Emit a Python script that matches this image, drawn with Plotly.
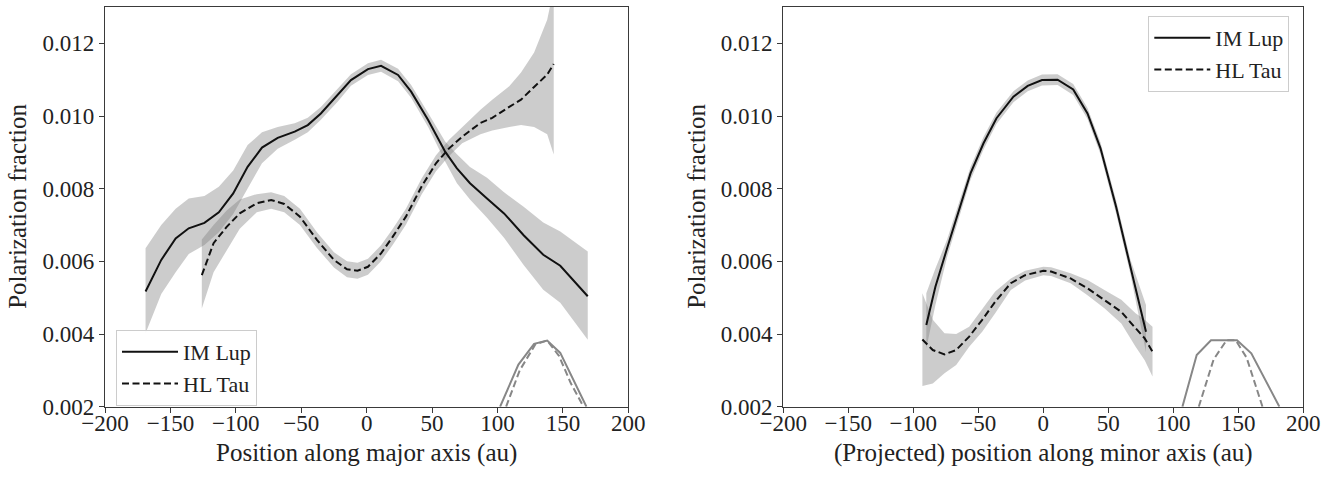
import plotly.graph_objects as go

# ---------------- data: major axis (left panel) ----------------
imlup_major_x = [-169, -157, -146, -136, -124, -113, -102, -91, -80, -68, -55, -45, -35, -22, -12,
                 1, 11, 24, 34, 47, 60, 69, 79, 92, 105, 120, 135, 148, 169]
imlup_major_y = [0.00517, 0.00604, 0.00663, 0.00691, 0.00706, 0.00735, 0.00787, 0.00860, 0.00913,
                 0.00940, 0.00957, 0.00975, 0.01007, 0.01058, 0.01099, 0.01129, 0.01138, 0.01113,
                 0.01067, 0.00989, 0.00902, 0.00856, 0.00815, 0.00773, 0.00732, 0.00672, 0.00618,
                 0.00588, 0.00504]
imlup_major_hi = [0.00636, 0.00700, 0.00745, 0.00773, 0.00780, 0.00805, 0.00850, 0.00920, 0.00955,
                  0.00970, 0.00980, 0.00995, 0.01025, 0.01075, 0.01115, 0.01145, 0.01155, 0.01130,
                  0.01085, 0.01008, 0.00930, 0.00895, 0.00860, 0.00830, 0.00790, 0.00750, 0.00707,
                  0.00682, 0.00627]
imlup_major_lo = [0.00402, 0.00510, 0.00570, 0.00620, 0.00645, 0.00680, 0.00730, 0.00800, 0.00870,
                  0.00910, 0.00935, 0.00955, 0.00990, 0.01040, 0.01083, 0.01113, 0.01122, 0.01096,
                  0.01050, 0.00970, 0.00875, 0.00815, 0.00770, 0.00720, 0.00665, 0.00590, 0.00522,
                  0.00486, 0.00384]

hltau_major_x = [-126, -117, -107, -97, -84, -73, -63, -51, -38, -25, -15, -7, 1, 11, 20, 30, 42,
                 53, 63, 73, 87, 96, 109, 118, 128, 138, 143]
hltau_major_y = [0.00562, 0.00650, 0.00695, 0.00732, 0.00760, 0.00769, 0.00758, 0.00723, 0.00659,
                 0.00604, 0.00578, 0.00574, 0.00585, 0.00622, 0.00668, 0.00723, 0.00806, 0.00870,
                 0.00911, 0.00943, 0.00981, 0.00995, 0.01025, 0.01045, 0.01080, 0.01114, 0.01143]
hltau_major_hi = [0.00660, 0.00700, 0.00740, 0.00770, 0.00785, 0.00790, 0.00780, 0.00745, 0.00680,
                  0.00625, 0.00600, 0.00596, 0.00607, 0.00644, 0.00690, 0.00745, 0.00828, 0.00892,
                  0.00935, 0.00970, 0.01017, 0.01045, 0.01082, 0.01120, 0.01175, 0.01265, 0.01350]
hltau_major_lo = [0.00470, 0.00570, 0.00630, 0.00690, 0.00735, 0.00745, 0.00735, 0.00700, 0.00637,
                  0.00583, 0.00556, 0.00552, 0.00563, 0.00600, 0.00646, 0.00701, 0.00784, 0.00848,
                  0.00890, 0.00925, 0.00950, 0.00960, 0.00970, 0.00975, 0.00970, 0.00950, 0.00894]

beam_major_solid_x = [102, 116, 128, 138, 148, 158, 168]
beam_major_solid_y = [0.0020, 0.00316, 0.00373, 0.00382, 0.00348, 0.00274, 0.0020]
beam_major_dash_x = [106.6, 117, 129, 138, 147, 156, 165.8]
beam_major_dash_y = [0.0020, 0.00300, 0.00372, 0.00382, 0.00340, 0.00265, 0.0020]

# ---------------- data: minor axis (right panel) ----------------
imlup_minor_x = [-90, -83, -74, -65, -56, -46, -36, -23, -12, -1, 11, 23, 34, 44, 56, 67, 79]
imlup_minor_y = [0.00425, 0.00530, 0.00636, 0.00741, 0.00842, 0.00925, 0.00994, 0.01053, 0.01083,
                 0.01099, 0.01100, 0.01073, 0.01007, 0.00911, 0.00750, 0.00585, 0.00406]
imlup_minor_hi = [0.00512, 0.00580, 0.00660, 0.00762, 0.00860, 0.00942, 0.01010, 0.01068, 0.01098,
                  0.01114, 0.01115, 0.01088, 0.01022, 0.00927, 0.00768, 0.00605, 0.00480]
imlup_minor_lo = [0.00360, 0.00480, 0.00612, 0.00720, 0.00824, 0.00908, 0.00978, 0.01038, 0.01068,
                  0.01084, 0.01085, 0.01058, 0.00992, 0.00895, 0.00732, 0.00565, 0.00350]

hltau_minor_x = [-93, -85, -76, -67, -57, -47, -37, -25, -14, 0, 6, 21, 34, 47, 60, 71, 78, 84]
hltau_minor_y = [0.00385, 0.00356, 0.00344, 0.00356, 0.00393, 0.00439, 0.00489, 0.00540, 0.00562,
                 0.00574, 0.00572, 0.00553, 0.00526, 0.00494, 0.00461, 0.00416, 0.00388, 0.00351]
hltau_minor_hi = [0.00512, 0.00439, 0.00402, 0.00400, 0.00420, 0.00470, 0.00517, 0.00553, 0.00574,
                  0.00585, 0.00584, 0.00567, 0.00549, 0.00521, 0.00494, 0.00457, 0.00439, 0.00420]
hltau_minor_lo = [0.00257, 0.00264, 0.00292, 0.00315, 0.00365, 0.00406, 0.00457, 0.00521, 0.00547,
                  0.00562, 0.00560, 0.00540, 0.00507, 0.00471, 0.00429, 0.00365, 0.00328, 0.00283]

beam_minor_solid_x = [107, 118, 129, 139, 149, 160, 181.6]
beam_minor_solid_y = [0.0020, 0.00342, 0.00383, 0.00383, 0.00383, 0.00347, 0.0020]
beam_minor_dash_x = [119.6, 131, 141, 148, 156.4, 168.6]
beam_minor_dash_y = [0.0020, 0.00330, 0.00383, 0.00383, 0.00335, 0.0020]

x_ticks = [-200, -150, -100, -50, 0, 50, 100, 150, 200]
x_tick_labels = ["\u2212200", "\u2212150", "\u2212100", "\u221250", "0", "50", "100", "150", "200"]
y_ticks = [0.002, 0.004, 0.006, 0.008, 0.010, 0.012]
y_tick_labels = ["0.002", "0.004", "0.006", "0.008", "0.010", "0.012"]

FONT = "Liberation Serif"
FILL = "rgba(128,128,128,0.4)"
DASH = "7px,3.5px"
BEAM = "rgb(135,135,135)"
TXT = "#222"

fig = go.Figure()


def band(x, hi, lo, xa, ya):
    fig.add_trace(go.Scatter(x=list(x) + list(x)[::-1], y=list(hi) + list(lo)[::-1],
                             fill="toself", fillcolor=FILL, line=dict(width=0),
                             mode="lines", showlegend=False, hoverinfo="skip",
                             xaxis=xa, yaxis=ya))


def line(x, y, xa, ya, name=None, dash="solid", color="#111", legend="legend", show=False, width=2):
    fig.add_trace(go.Scatter(x=x, y=y, mode="lines", name=name,
                             line=dict(color=color, width=width, dash=dash),
                             showlegend=show, legend=legend, xaxis=xa, yaxis=ya))


# left panel
band(imlup_major_x, imlup_major_hi, imlup_major_lo, "x", "y")
band(hltau_major_x, hltau_major_hi, hltau_major_lo, "x", "y")
line(imlup_major_x, imlup_major_y, "x", "y", "IM Lup", show=True, legend="legend")
line(hltau_major_x, hltau_major_y, "x", "y", "HL Tau", dash=DASH, show=True, legend="legend")
line(beam_major_solid_x, beam_major_solid_y, "x", "y", color=BEAM)
line(beam_major_dash_x, beam_major_dash_y, "x", "y", color=BEAM, dash=DASH)

# right panel
band(imlup_minor_x, imlup_minor_hi, imlup_minor_lo, "x2", "y2")
band(hltau_minor_x, hltau_minor_hi, hltau_minor_lo, "x2", "y2")
line(imlup_minor_x, imlup_minor_y, "x2", "y2", "IM Lup", show=True, legend="legend2")
line(hltau_minor_x, hltau_minor_y, "x2", "y2", "HL Tau", dash=DASH, show=True, legend="legend2")
line(beam_minor_solid_x, beam_minor_solid_y, "x2", "y2", color=BEAM)
line(beam_minor_dash_x, beam_minor_dash_y, "x2", "y2", color=BEAM, dash=DASH)

W, H = 1341, 479
ydom = [1 - 406.7 / H, 1 - 7 / H]
axis_common = dict(showline=True, linecolor="#3a3a3a", linewidth=1.2, mirror=True,
                   ticks="outside", ticklen=5, tickwidth=1.2, tickcolor="#3a3a3a",
                   showgrid=False, zeroline=False, automargin=False,
                   tickfont=dict(family=FONT, size=23, color=TXT))
xaxis_common = dict(axis_common, ticklabelstandoff=-9)

legend_common = dict(xanchor="left", yanchor="top",
                     bgcolor="rgba(255,255,255,0.85)", bordercolor="#cccccc", borderwidth=1,
                     font=dict(family=FONT, size=22, color=TXT), itemwidth=56,
                     tracegroupgap=0)

fig.update_layout(
    width=W, height=H, margin=dict(l=0, r=0, t=0, b=0, autoexpand=False),
    paper_bgcolor="white", plot_bgcolor="white",
    font=dict(family=FONT, size=23, color=TXT),
    xaxis=dict(domain=[105 / W, 628.3 / W], range=[-200, 200], anchor="y",
               tickvals=x_ticks, ticktext=x_tick_labels, **xaxis_common),
    yaxis=dict(domain=ydom, range=[0.002, 0.013], anchor="x",
               tickvals=y_ticks, ticktext=y_tick_labels, **axis_common),
    xaxis2=dict(domain=[783.3 / W, 1303.3 / W], range=[-200, 200], anchor="y2",
                tickvals=x_ticks, ticktext=x_tick_labels, **xaxis_common),
    yaxis2=dict(domain=ydom, range=[0.002, 0.013], anchor="x2",
                tickvals=y_ticks, ticktext=y_tick_labels, **axis_common),
    legend=dict(x=116 / W, y=1 - 330 / H, **legend_common),
    legend2=dict(x=1148.3 / W, y=1 - 16 / H, **legend_common),
    annotations=[
        dict(text="Position along major axis (au)", x=(105 + 628.3) / 2 / W, y=1 - 453 / H,
             xref="paper", yref="paper", showarrow=False, xanchor="center", yanchor="middle",
             font=dict(family=FONT, size=25, color=TXT)),
        dict(text="(Projected) position along minor axis (au)", x=(783.3 + 1303.3) / 2 / W,
             y=1 - 453 / H, xref="paper", yref="paper", showarrow=False, xanchor="center",
             yanchor="middle", font=dict(family=FONT, size=25, color=TXT)),
        dict(text="Polarization fraction", x=18 / W, y=(ydom[0] + ydom[1]) / 2, textangle=-90,
             xref="paper", yref="paper", showarrow=False, xanchor="center", yanchor="middle",
             font=dict(family=FONT, size=25, color=TXT)),
        dict(text="Polarization fraction", x=697 / W, y=(ydom[0] + ydom[1]) / 2, textangle=-90,
             xref="paper", yref="paper", showarrow=False, xanchor="center", yanchor="middle",
             font=dict(family=FONT, size=25, color=TXT)),
    ],
)

fig.write_html("out.html")
